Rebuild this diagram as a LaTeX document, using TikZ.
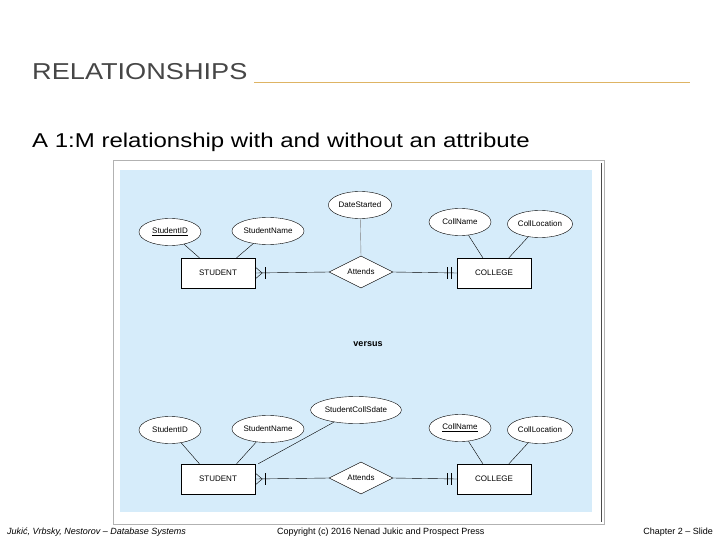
\documentclass[tikz,border=0pt]{standalone}
\usepackage{fontspec}
\setmainfont{Liberation Sans}
\usetikzlibrary{shapes.geometric, calc}
\definecolor{panelblue}{RGB}{214,236,250}
\definecolor{titlegray}{RGB}{70,70,70}
\definecolor{ruletan}{RGB}{222,180,100}
\begin{document}
\begin{tikzpicture}[x=1pt, y=-1pt,
			attr/.style={ellipse, draw, fill=white, minimum width=62pt, minimum height=27pt, inner sep=1pt, font=\fontsize{8}{9}\selectfont},
			entity/.style={rectangle, draw, fill=white, minimum width=74pt, minimum height=30pt, font=\fontsize{8}{9}\selectfont},
			rel/.style={diamond, draw, fill=white, minimum width=64pt, minimum height=32pt, aspect=2, inner sep=0pt, font=\fontsize{8}{9}\selectfont},
			thin
		]
		\useasboundingbox (0,0) rectangle (720,540);

		% --- Slide title ---
		\node[anchor=base west, text=titlegray, font=\fontsize{23}{26}\selectfont, inner sep=0, xscale=1.18] (title) at (32,80) {RELATIONSHIPS};
		\draw[ruletan, line width=0.8pt] (254,82) -- (690,82);
		\node[anchor=base west, font=\fontsize{20}{24}\selectfont, inner sep=0, xscale=1.2] (subtitle) at (32,148) {A 1:M relationship with and without an attribute};

		% --- Figure panel ---
		\draw[gray!60, fill=white] (113,160) rectangle (604,524);
		\fill[panelblue] (120,170) rectangle (592,512);
		\draw[black!70, line width=1pt] (601,163) -- (601,522);

		% --- Top: relationship with attribute ---
		\node[entity] (stud1) at (218,273) {STUDENT};
		\node[rel] (att1) at (361,272) {Attends};
		\node[entity] (coll1) at (494,273) {COLLEGE};
		\node[attr] (sid1) at (170,232) {\underline{StudentID}};
		\node[attr] (sname1) at (268,231) {StudentName};
		\node[attr] (date1) at (360,205) {DateStarted};
		\node[attr] (cname1) at (460,222) {CollName};
		\node[attr] (cloc1) at (540,224) {CollLocation};

		\draw (sid1) -- ($(stud1.north west)!0.25!(stud1.north east)$);
		\draw (sname1) -- ($(stud1.north west)!0.75!(stud1.north east)$);
		\draw[gray] (date1) -- (att1.north);
		\draw (cname1) -- ($(coll1.north west)!0.35!(coll1.north east)$);
		\draw (cloc1) -- ($(coll1.north west)!0.7!(coll1.north east)$);
		\draw (stud1.east) -- (att1.west);
		\draw (att1.east) -- (coll1.west);
		% crow's foot and bars
		\draw ($(stud1.east)+(0,-6)$) -- ($(stud1.east)+(7,0)$) -- ($(stud1.east)+(0,6)$);
		\draw ($(stud1.east)+(10,-6)$) -- ($(stud1.east)+(10,6)$);
		\draw ($(coll1.west)+(-6,-6)$) -- ($(coll1.west)+(-6,6)$);
		\draw ($(coll1.west)+(-10,-6)$) -- ($(coll1.west)+(-10,6)$);

		\node[font=\bfseries\fontsize{9}{10}\selectfont] (versus) at (368,344) {versus};

		% --- Bottom: attribute moved to STUDENT ---
		\node[entity] (stud2) at (218,479) {STUDENT};
		\node[rel] (att2) at (361,478) {Attends};
		\node[entity] (coll2) at (494,479) {COLLEGE};
		\node[attr] (sid2) at (170,430) {StudentID};
		\node[attr] (sname2) at (268,429) {StudentName};
		\node[attr] (sdate2) at (356,410) {StudentCollSdate};
		\node[attr] (cname2) at (460,428) {\underline{CollName}};
		\node[attr] (cloc2) at (540,430) {CollLocation};

		\draw (sid2) -- ($(stud2.north west)!0.25!(stud2.north east)$);
		\draw (sname2) -- ($(stud2.north west)!0.75!(stud2.north east)$);
		\draw (sdate2) -- ($(stud2.north east)+(3,0)$);
		\draw (cname2) -- ($(coll2.north west)!0.35!(coll2.north east)$);
		\draw (cloc2) -- ($(coll2.north west)!0.7!(coll2.north east)$);
		\draw (stud2.east) -- (att2.west);
		\draw (att2.east) -- (coll2.west);
		\draw ($(stud2.east)+(0,-6)$) -- ($(stud2.east)+(7,0)$) -- ($(stud2.east)+(0,6)$);
		\draw ($(stud2.east)+(10,-6)$) -- ($(stud2.east)+(10,6)$);
		\draw ($(coll2.west)+(-6,-6)$) -- ($(coll2.west)+(-6,6)$);
		\draw ($(coll2.west)+(-10,-6)$) -- ($(coll2.west)+(-10,6)$);

		% --- Footer ---
		\node[anchor=base west, font=\itshape\fontsize{9}{10}\selectfont, inner sep=0] (foot1) at (7,534) {Jukić, Vrbsky, Nestorov – Database Systems};
		\node[anchor=base west, font=\fontsize{9}{10}\selectfont, inner sep=0] (foot2) at (277,534) {Copyright (c) 2016 Nenad Jukic and Prospect Press};
		\node[anchor=base east, font=\fontsize{9}{10}\selectfont, inner sep=0] (foot3) at (713,534) {Chapter 2 – Slide};
	\end{tikzpicture}
\end{document}
